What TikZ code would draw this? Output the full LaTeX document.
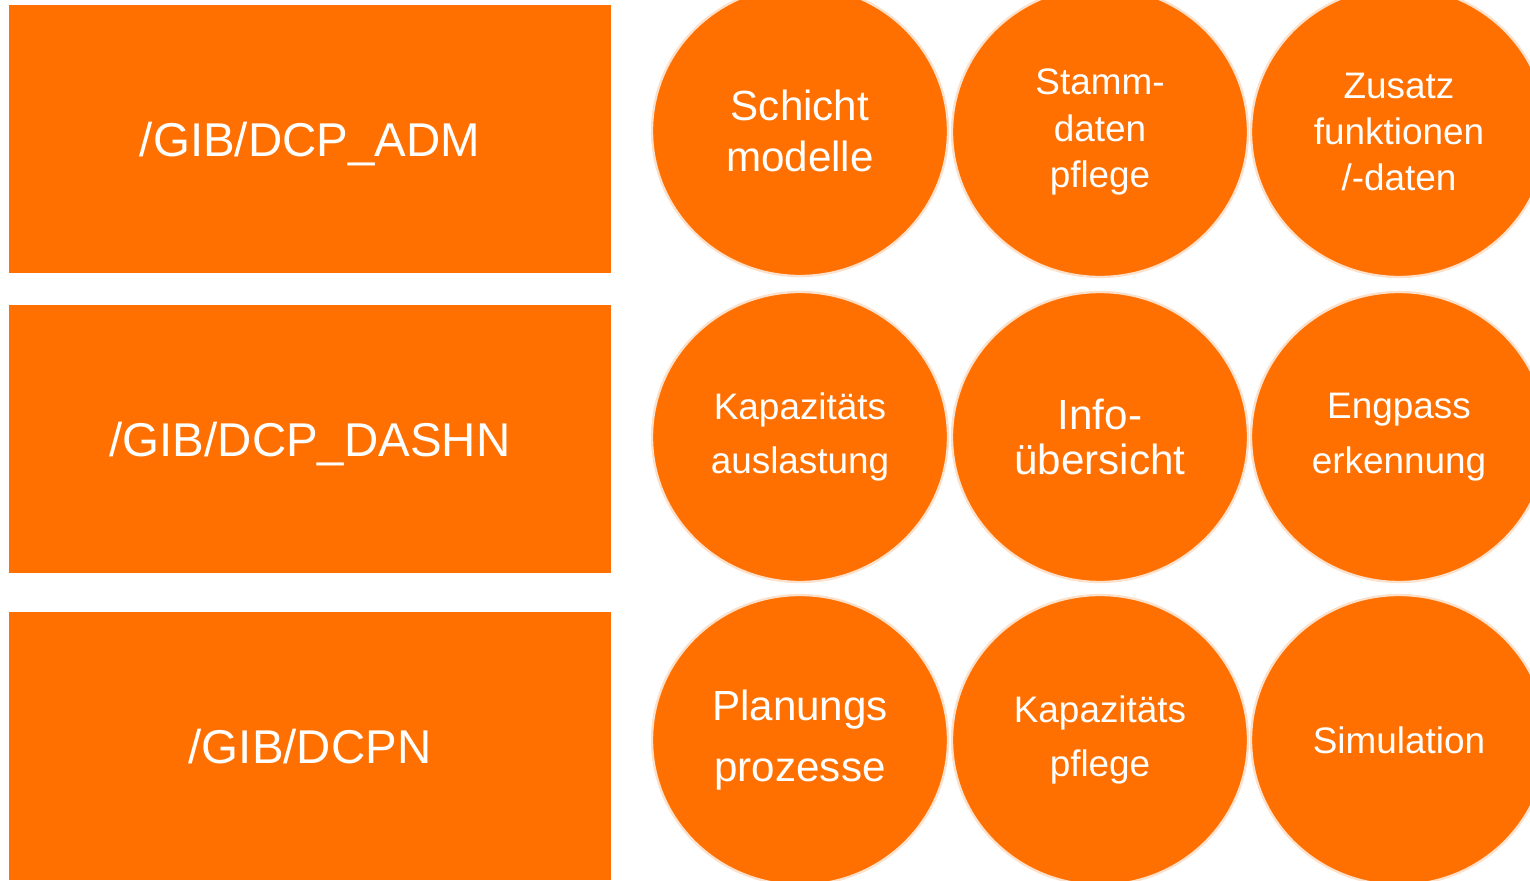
\documentclass[tikz,border=0pt]{standalone}
\usepackage{fontspec}
\setmainfont{Liberation Sans}
\usetikzlibrary{shapes.geometric}
\definecolor{dcporange}{RGB}{255,112,0}
\definecolor{dcprim}{RGB}{251,224,203}

\tikzset{
  transbox/.style={rectangle, fill=dcporange, text=white, inner sep=0pt,
    minimum width=12.04cm, minimum height=5.36cm, text height=19.4pt, text depth=0pt,
    font=\fontsize{27}{32}\selectfont},
  funcball/.style={ellipse, fill=dcporange, draw=dcprim, line width=1.3pt, text=white,
    inner sep=0pt, align=center, minimum width=5.92cm, minimum height=5.8cm},
  txt/.style 2 args={font=\fontsize{#1}{#2}\selectfont}
}

\begin{document}
\begin{tikzpicture}[x=0.02cm, y=-0.02cm]
\useasboundingbox (0,0) rectangle (1530,881);
\clip (0,0) rectangle (1530,881);
% Transactions
\node[transbox] (Adm) at (310,139) {/GIB/DCP\_ADM};
\node[transbox] (Dashn) at (310,439) {/GIB/DCP\_DASHN};
\node[transbox] (Dcpn) at (310,746) {/GIB/DCPN};
% Functions, first row
\node[funcball, txt={24}{29.5}] (Schicht) at (800,131) {Schicht\\modelle};
\node[funcball, txt={21}{26.4}] (Stamm) at (1100,132) {Stamm-\\daten\\pflege};
\node[funcball, txt={21}{26.4}] (Zusatz) at (1399,132) {Zusatz\\funktionen\\/-daten};
% Functions, second row
\node[funcball, txt={21}{31.2}] (Auslastung) at (800,437) {Kapazitäts\\auslastung};
\node[funcball, txt={24}{26}] (Info) at (1100,437) {Info-\\übersicht};
\node[funcball, txt={21}{31.2}] (Engpass) at (1399,437) {Engpass\\erkennung};
% Functions, third row
\node[funcball, txt={24}{35}] (Planung) at (800,740) {Planungs\\prozesse};
\node[funcball, txt={21}{31.2}] (Pflege) at (1100,740) {Kapazitäts\\pflege};
\node[funcball, txt={21}{26}] (Simulation) at (1399,740) {Simulation};
\end{tikzpicture}
\end{document}
